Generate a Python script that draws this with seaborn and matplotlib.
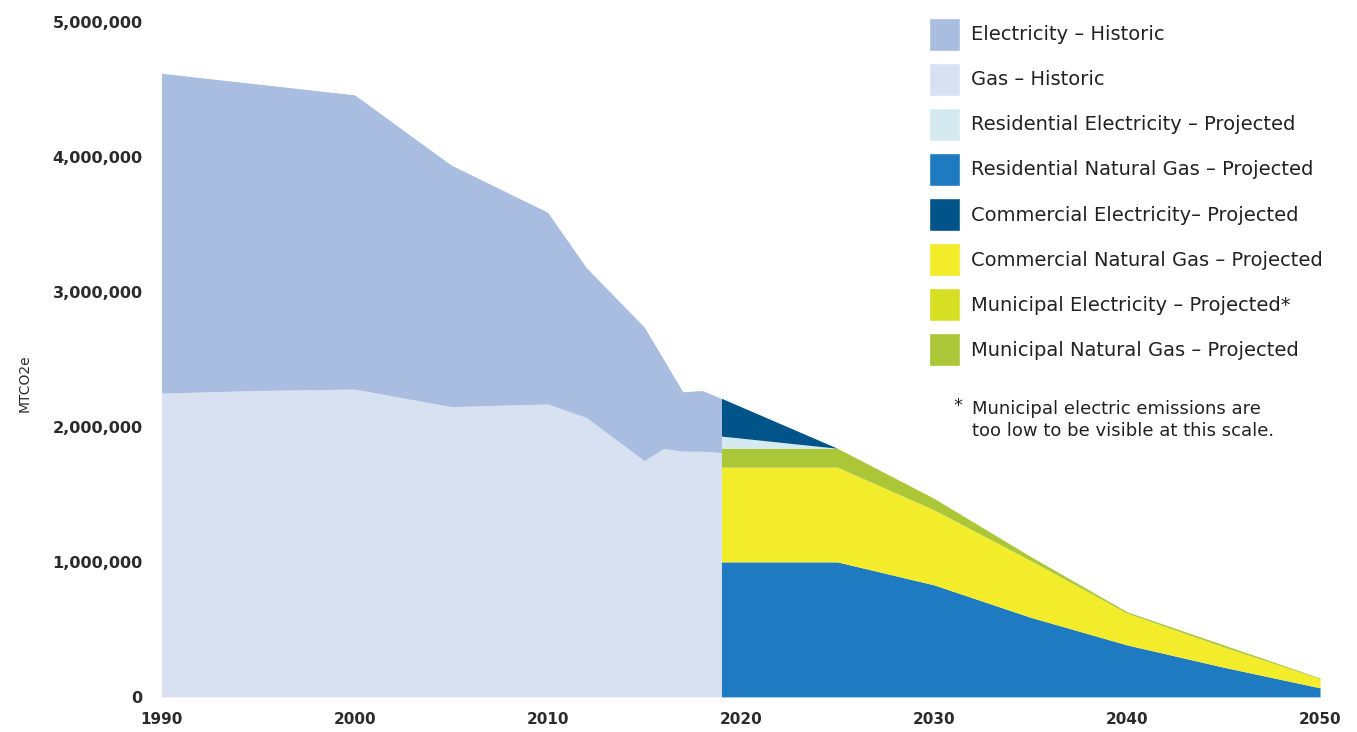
import numpy as np
import matplotlib
matplotlib.use("Agg")
import matplotlib.pyplot as plt
import matplotlib.ticker as mticker
from matplotlib.patches import Patch
import seaborn as sns

sns.set_theme(style="white")
plt.rcParams['font.family'] = ['DejaVu Sans']

# historic series (MTCO2e)
hist_years = [1990, 1995, 2000, 2005, 2010, 2012, 2015, 2016, 2017, 2018, 2019]
hist_total = [4620000, 4540000, 4460000, 3940000, 3590000, 3180000, 2740000,
              2500000, 2260000, 2270000, 2210000]
gas_hist = [2250000, 2270000, 2280000, 2150000, 2170000, 2070000, 1750000,
            1840000, 1820000, 1820000, 1810000]
elec_hist = [t - g for t, g in zip(hist_total, gas_hist)]

# projected series (MTCO2e)
proj_years = [2019, 2025, 2030, 2035, 2040, 2045, 2050]
res_gas = [1000000, 1000000, 830000, 590000, 385000, 220000, 67000]
com_gas = [700000, 700000, 555000, 420000, 235000, 150000, 68000]
muni_elec = [2000, 2000, 1200, 800, 500, 300, 100]
muni_gas = [140000, 140000, 85000, 30000, 10000, 15000, 5000]
res_elec = [90000, 0, 0, 0, 0, 0, 0]
com_elec = [280000, 0, 0, 0, 0, 0, 0]

labels = ["Electricity \u2013 Historic", "Gas \u2013 Historic",
          "Residential Electricity \u2013 Projected",
          "Residential Natural Gas \u2013 Projected",
          "Commercial Electricity\u2013 Projected",
          "Commercial Natural Gas \u2013 Projected",
          "Municipal Electricity \u2013 Projected*",
          "Municipal Natural Gas \u2013 Projected"]
colors = {"elec_hist": "#a9bde0", "gas_hist": "#d8e1f2",
          "res_elec": "#d5eaf0", "res_gas": "#1f7bc1",
          "com_elec": "#00548a", "com_gas": "#f3ec2b",
          "muni_elec": "#d6df22", "muni_gas": "#abc637"}

fig = plt.figure(figsize=(13.57, 7.32), dpi=100)
ax = fig.add_axes([0.119, 0.048, 0.868, 0.922])

# historic: gas at bottom, electricity stacked on top
ax.stackplot(hist_years, gas_hist, elec_hist,
             colors=[colors["gas_hist"], colors["elec_hist"]], linewidth=0)

# projected stack (bottom to top)
ax.stackplot(proj_years, res_gas, com_gas, muni_elec, muni_gas, res_elec, com_elec,
             colors=[colors["res_gas"], colors["com_gas"], colors["muni_elec"],
                     colors["muni_gas"], colors["res_elec"], colors["com_elec"]],
             linewidth=0)

ax.set_xlim(1990, 2051)
ax.set_ylim(0, 5000000)
ax.set_xticks([1990, 2000, 2010, 2020, 2030, 2040, 2050])
ax.set_yticks(np.arange(0, 5000001, 1000000))
ax.yaxis.set_major_formatter(mticker.StrMethodFormatter("{x:,.0f}"))
ax.tick_params(axis="both", length=0, labelcolor="#2b2b2b")
ax.tick_params(axis="x", pad=11, labelsize=11)
ax.tick_params(axis="y", pad=13.5, labelsize=11.6)
for lab in ax.get_xticklabels() + ax.get_yticklabels():
    lab.set_fontweight("bold")
for s in ax.spines.values():
    s.set_visible(False)
fig.text(25 / 1357, 1 - 383 / 732, "MTCO2e", rotation=90, fontsize=10,
         color="#2b2b2b", ha="center", va="center")

handles = [Patch(facecolor=colors[k]) for k in
           ["elec_hist", "gas_hist", "res_elec", "res_gas",
            "com_elec", "com_gas", "muni_elec", "muni_gas"]]
fig.legend(handles, labels, loc="upper left", bbox_to_anchor=(0.672, 1.0),
           frameon=False, fontsize=14, handlelength=1.55, handleheight=2.24,
           labelspacing=0.62, handletextpad=0.6, labelcolor="#222222")

fig.text(953 / 1357, 1 - 406 / 732, "*", fontsize=13, color="#222222", va="center")
fig.text(972 / 1357, 1 - 420 / 732,
         "Municipal electric emissions are\ntoo low to be visible at this scale.",
         fontsize=13, color="#222222", va="center", linespacing=1.25)

plt.savefig("out.png", dpi=100)
